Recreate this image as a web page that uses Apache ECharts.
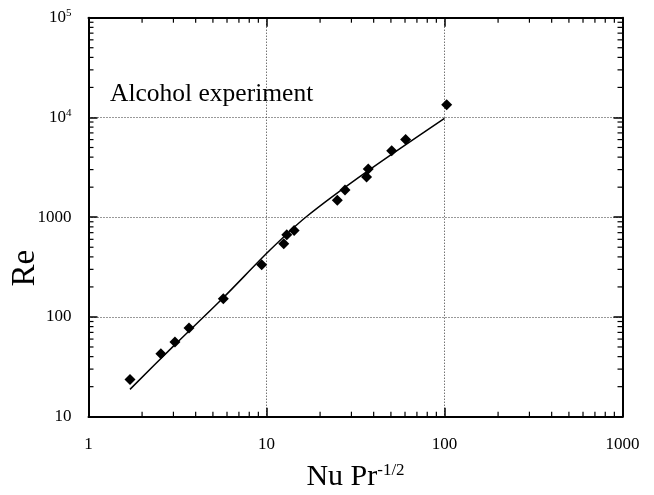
<!DOCTYPE html>
<html>
<head>
<meta charset="utf-8">
<script src="https://cdn.jsdelivr.net/npm/echarts@6/dist/echarts.min.js"></script>
<style>
  html, body { margin: 0; padding: 0; background: #fff; }
  #chart { width: 654px; height: 495px; }
</style>
</head>
<body>
<div id="chart"></div>
<script>
// Measured points: Nu Pr^-1/2 against Re
const nuPr = [1.71, 2.55, 3.06, 3.67, 5.72, 9.4, 12.5, 13.0, 14.3, 25.0, 27.6, 36.5, 37.3, 50.5, 60.5, 102.9];
const reExp = [23.6, 42.7, 56, 77.6, 152, 333, 541, 665, 736, 1479, 1876, 2531, 3040, 4645, 6026, 13400];

// Correlation curve
const fitX = [1.71, 3, 5.7, 10.5, 16.8, 36.6, 100];
const fitY = [18.8, 51, 155, 471, 1016, 2864, 9800];

// Decade labels ('^' marks an exponent)
const xTickValues = [1, 10, 100, 1000];
const xTickText = ['1', '10', '100', '1000'];
const yTickValues = [10, 100, 1000, 10000, 100000];
const yTickText = ['10', '100', '1000', '10^4', '10^5'];

// Minor tick values inside each decade
const xMinor = [2, 3, 4, 5, 6, 7, 8, 9, 20, 30, 40, 50, 60, 70, 80, 90, 200, 300, 400, 500, 600, 700, 800, 900];
const yMinor = [20, 30, 40, 50, 60, 70, 80, 90, 200, 300, 400, 500, 600, 700, 800, 900,
  2000, 3000, 4000, 5000, 6000, 7000, 8000, 9000, 20000, 30000, 40000, 50000, 60000, 70000, 80000, 90000];

const FONT = '"Liberation Serif", "Times New Roman", serif';

function toRich(s) {
  const i = s.indexOf('^');
  return i < 0 ? s : s.slice(0, i) + '{sup|' + s.slice(i + 1) + '}';
}
function labelFor(values, texts) {
  return function (v) {
    for (let i = 0; i < values.length; i++) {
      if (Math.abs(Math.log10(v) - Math.log10(values[i])) < 1e-6) return toRich(texts[i]);
    }
    return '';
  };
}

const tickLabelStyle = {
  fontFamily: FONT, fontSize: 17, color: '#000',
  rich: {
    sup: { fontFamily: FONT, fontSize: 11, color: '#000', verticalAlign: 'top', padding: [0, 0, 9, 0] }
  }
};

const frameLine = { show: true, onZero: false, lineStyle: { color: '#000', width: 2 } };
const majorTick = { show: true, inside: true, length: 9, lineStyle: { color: '#000', width: 1.5 } };
const gridDots = { show: true, lineStyle: { color: '#333', width: 1, type: [1, 2] } };

const chart = echarts.init(document.getElementById('chart'), null, { renderer: 'canvas' });

chart.setOption({
  animation: false,
  backgroundColor: '#fff',
  title: {
    text: 'Alcohol experiment',
    left: 105, top: 76,
    textStyle: { fontFamily: FONT, fontSize: 25.5, fontWeight: 'normal', color: '#000' }
  },
  grid: { left: 88.5, right: 31.5, top: 17.7, bottom: 78.3, containLabel: false, outerBoundsMode: 'none' },
  xAxis: [
    {
      type: 'log', logBase: 10, min: 1, max: 1000, position: 'bottom',
      axisLine: frameLine, axisTick: majorTick, splitLine: gridDots,
      axisLabel: Object.assign({ margin: 19, formatter: labelFor(xTickValues, xTickText) }, tickLabelStyle),
      name: 'Nu Pr{sup|-1/2}', nameLocation: 'middle', nameGap: 45,
      nameTextStyle: {
        fontFamily: FONT, fontSize: 30, color: '#000',
        rich: { sup: { fontFamily: FONT, fontSize: 17, color: '#000', verticalAlign: 'top', padding: [0, 0, 12, 0] } }
      }
    },
    {
      type: 'log', logBase: 10, min: 1, max: 1000, position: 'top',
      axisLine: frameLine, axisTick: majorTick, splitLine: { show: false }, axisLabel: { show: false }
    }
  ],
  yAxis: [
    {
      type: 'log', logBase: 10, min: 10, max: 100000, position: 'left',
      axisLine: frameLine, axisTick: majorTick, splitLine: gridDots,
      axisLabel: Object.assign({ margin: 17, formatter: labelFor(yTickValues, yTickText) }, tickLabelStyle),
      name: 'Re', nameLocation: 'middle', nameGap: 47, nameRotate: 90, nameMoveOverlap: false,
      nameTextStyle: { fontFamily: FONT, fontSize: 33, color: '#000', padding: [0, 102, 0, 0] }
    },
    {
      type: 'log', logBase: 10, min: 10, max: 100000, position: 'right',
      axisLine: frameLine, axisTick: majorTick, splitLine: { show: false }, axisLabel: { show: false }
    }
  ],
  series: [
    {
      // minor ticks along bottom and top edges
      type: 'custom', xAxisIndex: 0, yAxisIndex: 0, silent: true, clip: false, z: 5,
      data: xMinor.map(v => [v, 10]),
      renderItem: function (params, api) {
        const cs = params.coordSys;
        const x = api.coord([api.value(0), 10])[0];
        const b = cs.y + cs.height, t = cs.y, L = 5;
        const st = { stroke: '#000', lineWidth: 1.2 };
        return { type: 'group', children: [
          { type: 'line', shape: { x1: x, y1: b, x2: x, y2: b - L }, style: st },
          { type: 'line', shape: { x1: x, y1: t, x2: x, y2: t + L }, style: st }
        ] };
      }
    },
    {
      // minor ticks along left and right edges
      type: 'custom', xAxisIndex: 0, yAxisIndex: 0, silent: true, clip: false, z: 5,
      data: yMinor.map(v => [1, v]),
      renderItem: function (params, api) {
        const cs = params.coordSys;
        const y = api.coord([1, api.value(1)])[1];
        const l = cs.x, r = cs.x + cs.width, L = 5;
        const st = { stroke: '#000', lineWidth: 1.2 };
        return { type: 'group', children: [
          { type: 'line', shape: { x1: l, y1: y, x2: l + L, y2: y }, style: st },
          { type: 'line', shape: { x1: r, y1: y, x2: r - L, y2: y }, style: st }
        ] };
      }
    },
    {
      type: 'line', xAxisIndex: 0, yAxisIndex: 0,
      data: fitX.map((x, i) => [x, fitY[i]]),
      showSymbol: false, smooth: 0.3,
      lineStyle: { color: '#000', width: 1.5 }, z: 3
    },
    {
      type: 'scatter', xAxisIndex: 0, yAxisIndex: 0,
      data: nuPr.map((x, i) => [x, reExp[i]]),
      symbol: 'diamond', symbolSize: 11,
      itemStyle: { color: '#000', opacity: 1 }, z: 4
    }
  ]
});
</script>
</body>
</html>
